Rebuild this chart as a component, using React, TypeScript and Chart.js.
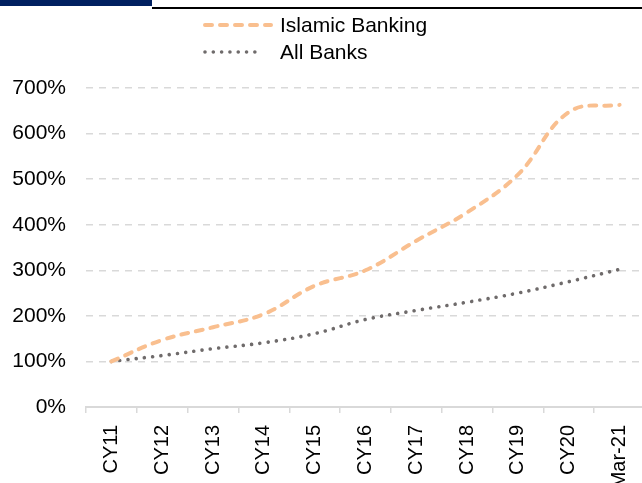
import React, { useEffect, useRef } from "react";
import { Chart, registerables } from "chart.js";

Chart.register(...registerables);

const categories = ["CY11", "CY12", "CY13", "CY14", "CY15", "CY16", "CY17", "CY18", "CY19", "CY20", "Mar-21"];
const islamicBanking = [100, 147, 175, 204, 266, 300, 365, 427, 510, 647, 663];
const allBanks = [100, 113, 128, 141, 161, 192, 212, 230, 250, 275, 302];
const yTicks = [0, 100, 200, 300, 400, 500, 600, 700];

const W = 646;
const H = 500;
const FONT = "'Liberation Sans', Arial, sans-serif";

const decorPlugin = {
  id: "decor",
  afterDraw(chart: any) {
    const ctx = chart.ctx;
    ctx.save();
    ctx.fillStyle = "#002060";
    ctx.fillRect(0, 0, 152, 6);
    ctx.fillStyle = "#000000";
    ctx.fillRect(152, 7, chart.width - 152, 2);
    // custom stacked legend
    const rows = [25, 52];
    chart.data.datasets.forEach((ds: any, i: number) => {
      const y = rows[i];
      ctx.save();
      ctx.strokeStyle = ds.borderColor;
      ctx.lineWidth = ds.borderWidth;
      ctx.lineCap = "round";
      ctx.setLineDash(ds.borderDash || []);
      ctx.beginPath();
      ctx.moveTo(205, y);
      ctx.lineTo(i === 0 ? 271 : 260, y);
      ctx.stroke();
      ctx.restore();
      ctx.fillStyle = "#000000";
      ctx.font = `21px ${FONT}`;
      ctx.textBaseline = "middle";
      ctx.textAlign = "left";
      ctx.fillText(ds.label, 280, y + 1);
    });
    ctx.restore();
  },
};

export default function App() {
  const ref = useRef<HTMLCanvasElement>(null);
  useEffect(() => {
    if (!ref.current) return;
    const chart = new Chart(ref.current, {
      type: "line",
      data: {
        labels: categories,
        datasets: [
          {
            label: "Islamic Banking",
            data: islamicBanking,
            borderColor: "#F9BF8F",
            borderWidth: 4,
            borderDash: [7, 8],
            borderCapStyle: "round",
            pointRadius: 0,
            tension: 0.4,
            fill: false,
          },
          {
            label: "All Banks",
            data: allBanks,
            borderColor: "#6F6B6B",
            borderWidth: 3.6,
            borderDash: [0.01, 8.3],
            borderCapStyle: "round",
            pointRadius: 0,
            tension: 0.4,
            fill: false,
          },
        ],
      },
      options: {
        animation: false,
        responsive: false,
        maintainAspectRatio: false,
        layout: { padding: { top: 88, left: 0, right: 1, bottom: 0 } },
        plugins: { legend: { display: false }, tooltip: { enabled: false } },
        scales: {
          x: {
            offset: true,
            grid: {
              display: true,
              drawOnChartArea: false,
              drawTicks: true,
              tickLength: 6,
              color: "#D9D9D9",
              lineWidth: 1.5,
              offset: true,
            },
            border: { display: true, color: "#D9D9D9", width: 2 },
            ticks: {
              color: "#000000",
              font: { family: FONT, size: 20 },
              maxRotation: 90,
              minRotation: 90,
              padding: 12,
              autoSkip: false,
            },
            afterFit: (s: any) => {
              s.height = H - 407;
              s.paddingLeft = 0;
              s.paddingRight = 0;
            },
          },
          y: {
            min: 0,
            max: 700,
            afterBuildTicks: (s: any) => {
              s.ticks = yTicks.map((v) => ({ value: v }));
            },
            ticks: {
              color: "#000000",
              font: { family: FONT, size: 21 },
              padding: 20,
              callback: (v: any) => v + "%",
            },
            grid: { color: "#D9D9D9", lineWidth: 1.5, drawTicks: false },
            border: { display: false, dash: [7, 6] },
            afterFit: (s: any) => {
              s.width = 86;
            },
          },
        },
      },
      plugins: [decorPlugin],
    });
    return () => chart.destroy();
  }, []);
  return (
    <div style={{ position: "fixed", left: 0, top: 0, width: W, height: H, background: "#fff" }}>
      <canvas ref={ref} width={W} height={H} style={{ width: W, height: H }} />
    </div>
  );
}
